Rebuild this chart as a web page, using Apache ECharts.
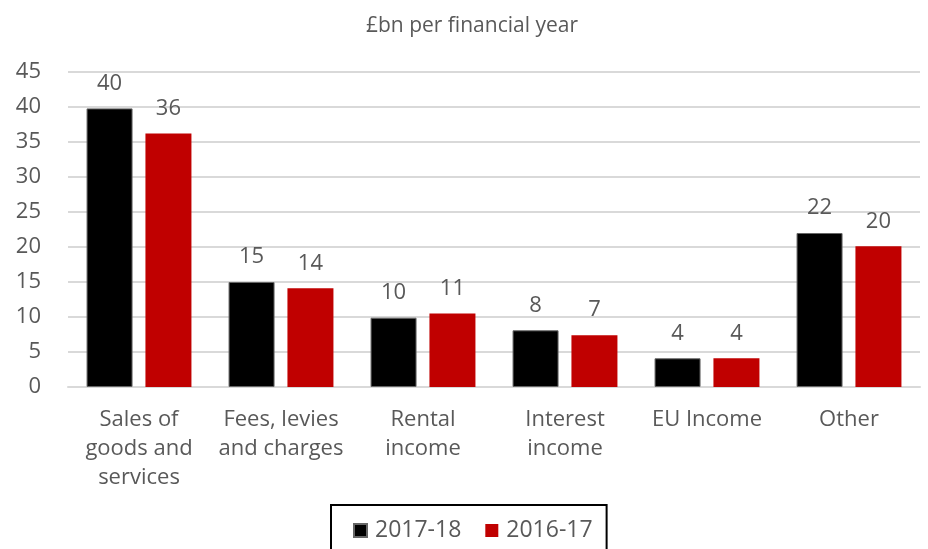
<!DOCTYPE html>
<html>
<head>
    <meta charset="utf-8">
    <title>£bn per financial year</title>
    <script src="https://cdn.jsdelivr.net/npm/echarts@6/dist/echarts.min.js"></script>
    <style>
        html, body { margin: 0; padding: 0; background: #fff; }
        #chart { width: 928px; height: 549px; }
    </style>
</head>
<body>
    <div id="chart"></div>
    <script>
        // data
        var categories = ['Sales of\ngoods and\nservices', 'Fees, levies\nand charges', 'Rental\nincome', 'Interest\nincome', 'EU Income', 'Other'];
        var y2017 = [39.8, 15.0, 9.9, 8.1, 4.1, 22.0];
        var y2016 = [36.2, 14.1, 10.5, 7.4, 4.1, 20.1];
        var seriesNames = ['2017-18', '2016-17'];

        var grey = '#595959';
        var font = 'Open Sans';

        var myChart = echarts.init(document.getElementById('chart'));

        var barLabel = {
            show: true,
            position: 'top',
            distance: 14,
            color: grey,
            fontFamily: font,
            fontSize: 22,
            formatter: function (p) { return Math.round(p.value); }
        };

        var option = {
            animation: false,
            title: {
                text: '£bn per financial year',
                left: 361,
                top: 11,
                textStyle: { color: grey, fontFamily: font, fontSize: 21, fontWeight: 'normal' }
            },
            legend: {
                data: seriesNames,
                left: 331,
                top: 505,
                padding: [14, 14, 20, 22],
                itemWidth: 13,
                itemHeight: 13,
                itemGap: 24,
                icon: 'rect',
                borderColor: '#000',
                borderWidth: 2,
                textStyle: { color: grey, fontFamily: font, fontSize: 23, padding: [0, 0, 0, 3] }
            },
            grid: {
                left: 68,
                right: 8,
                top: 72,
                bottom: 162
            },
            xAxis: {
                type: 'category',
                data: categories,
                axisLine: { lineStyle: { color: '#d9d9d9', width: 2 } },
                axisTick: { show: false },
                axisLabel: {
                    color: grey,
                    fontFamily: font,
                    fontSize: 22,
                    lineHeight: 29,
                    margin: 18,
                    interval: 0
                }
            },
            yAxis: {
                type: 'value',
                min: 0,
                max: 45,
                interval: 5,
                axisLine: { show: false },
                axisTick: { show: false },
                splitLine: { lineStyle: { color: '#d9d9d9', width: 2 } },
                axisLabel: { color: grey, fontFamily: font, fontSize: 22, margin: 27 }
            },
            series: [
                {
                    name: seriesNames[0],
                    type: 'bar',
                    barWidth: 46,
                    barGap: '28%',
                    itemStyle: { color: '#000', borderColor: '#666', borderWidth: 1 },
                    label: barLabel,
                    data: y2017
                },
                {
                    name: seriesNames[1],
                    type: 'bar',
                    barWidth: 46,
                    barGap: '28%',
                    itemStyle: { color: '#c00000' },
                    label: barLabel,
                    data: y2016
                }
            ]
        };

        myChart.setOption(option);
    </script>
</body>
</html>
